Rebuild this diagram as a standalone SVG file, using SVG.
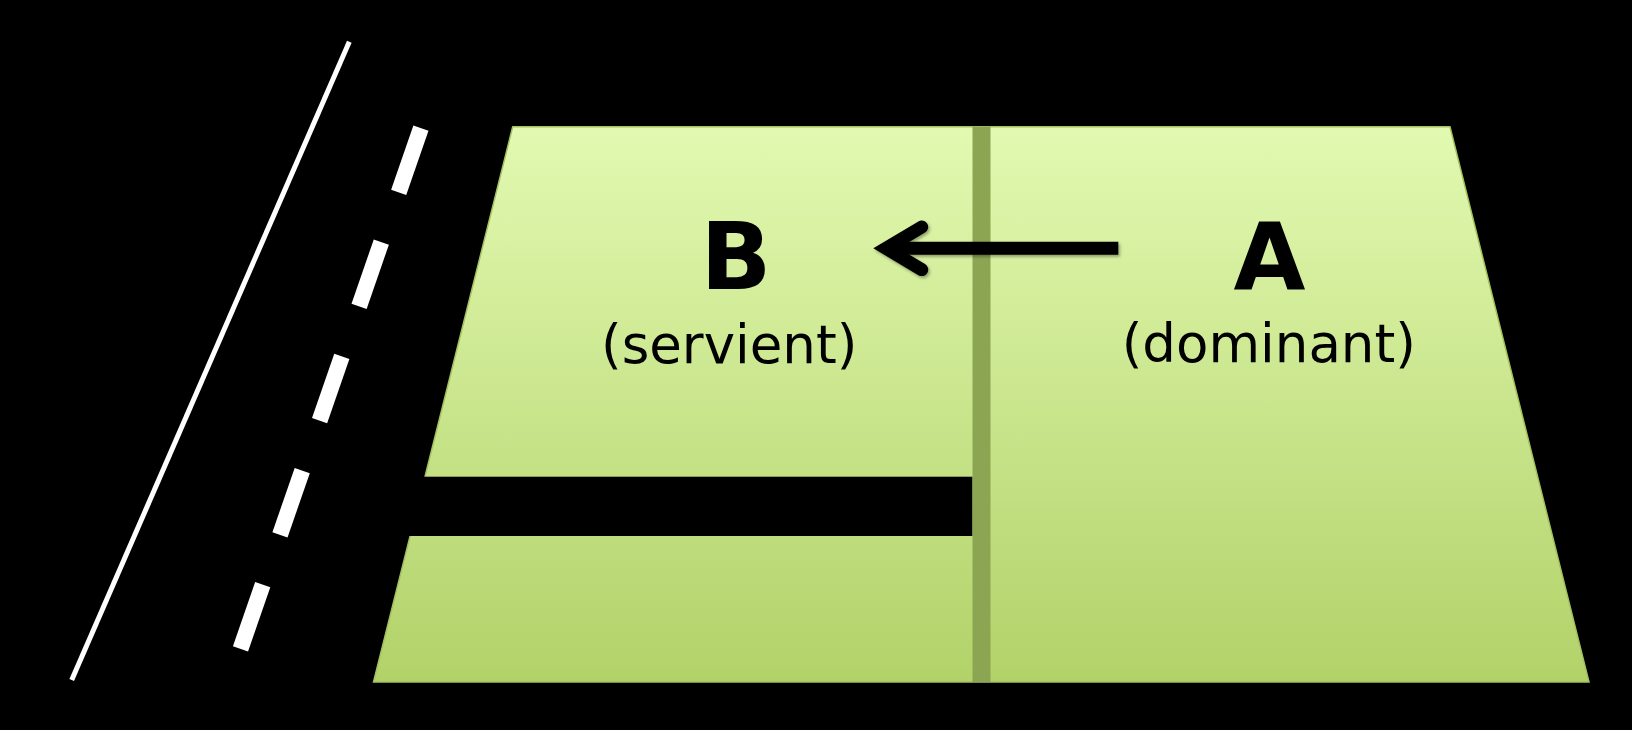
<svg xmlns="http://www.w3.org/2000/svg" width="1632" height="730" viewBox="0 0 1632 730">
  <defs>
    <linearGradient id="landFill" x1="0" y1="126.7" x2="0" y2="682" gradientUnits="userSpaceOnUse">
      <stop offset="0" stop-color="#e2f9b1"/>
      <stop offset="1" stop-color="#b2d269"/>
    </linearGradient>
    <filter id="shadow" filterUnits="userSpaceOnUse" x="840" y="200" width="310" height="100">
      <feDropShadow dx="1.5" dy="2" stdDeviation="1.8" flood-color="#000" flood-opacity="0.35"/>
    </filter>
    <marker id="arrowHead" markerUnits="userSpaceOnUse" orient="auto" refX="0" refY="0" overflow="visible" markerWidth="1" markerHeight="1">
      <polyline points="-35.7,-21.3 0,0 -35.7,21.3" fill="none" stroke="#000" stroke-width="13" stroke-linecap="round" stroke-linejoin="miter" stroke-miterlimit="4"/>
    </marker>
    <style>
      .dash { fill: #ffffff; }
      .big { font-family: "DejaVu Sans", "Liberation Sans", sans-serif; font-weight: bold; font-size: 93px; fill: #000; text-anchor: middle; }
      .sub { font-family: "DejaVu Sans", "Liberation Sans", sans-serif; font-size: 53px; fill: #000; text-anchor: middle; }
    </style>
  </defs>

  <rect x="0" y="0" width="1632" height="730" fill="#000"/>

  <g id="road">
    <line x1="349.3" y1="41.7" x2="71.7" y2="680" stroke="#fff" stroke-width="5"/>
    <rect class="dash" x="-8" y="-34" width="16" height="68" transform="translate(409.8,160.3) rotate(19.1)"/>
    <rect class="dash" x="-8" y="-34" width="16" height="68" transform="translate(370.2,274.2) rotate(19.1)"/>
    <rect class="dash" x="-8" y="-34" width="16" height="68" transform="translate(330.7,388.5) rotate(19.1)"/>
    <rect class="dash" x="-8" y="-34" width="16" height="68" transform="translate(291.1,502.7) rotate(19.1)"/>
    <rect class="dash" x="-8" y="-34" width="16" height="68" transform="translate(251.6,616.8) rotate(19.1)"/>
  </g>

  <g id="land">
    <polygon points="512.7,126.7 1450,126.7 1589,682 373.5,682" fill="url(#landFill)" stroke="#a3c163" stroke-width="1.5"/>
    <rect x="360" y="476.7" width="612.5" height="59.3" fill="#000"/>
    <rect x="972.5" y="126.7" width="18" height="555.3" fill="#8ba553"/>
  </g>

  <g id="node-B">
    <text class="big" x="736" y="289.3">B</text>
    <text class="sub" x="729.2" y="362.8">(servient)</text>
  </g>

  <g id="node-A">
    <text class="big" x="1269.5" y="289.3">A</text>
    <text class="sub" x="1268.8" y="362">(dominant)</text>
  </g>

  <g id="connectors" filter="url(#shadow)">
    <path d="M1118.3,248.3 L886,248.3" fill="none" stroke="#000" stroke-width="13" marker-end="url(#arrowHead)"/>
  </g>
</svg>
